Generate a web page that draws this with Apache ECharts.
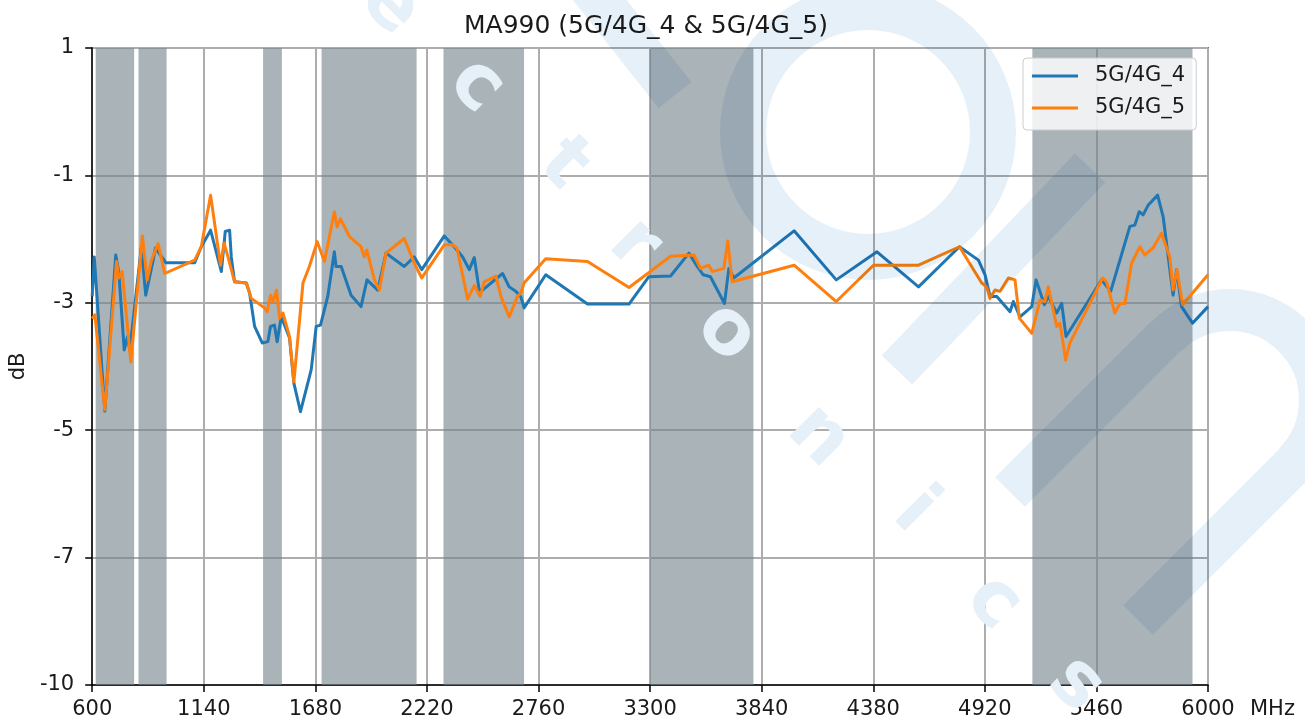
<!DOCTYPE html>
<html><head><meta charset="utf-8">
<script src="https://cdn.jsdelivr.net/npm/echarts@6/dist/echarts.min.js"></script>
<style>html,body{margin:0;padding:0;background:#fff}#c{width:1305px;height:722px}</style>
</head><body><div id="c"></div>
<script>
// ---- data ----
const xTicks = [600, 1140, 1680, 2220, 2760, 3300, 3840, 4380, 4920, 5460, 6000];
const yTickValues = [-9, -7, -5, -3, -1, 1];
const yTickLabels = ['-10', '-7', '-5', '-3', '-1', '1'];

const bandStart = [617, 824, 1427, 1710, 2300, 3300, 5150];
const bandEnd   = [803, 960, 1518, 2170, 2690, 3800, 5925];

const blueMHz = [600,610,661,714,729,755,771,782,838,859,895,906,956,1096,1128,1173,1225,1244,1265,1273,1289,1346,1362,1386,1423,1450,1463,1482,1495,1515,1555,1576,1608,1660,1684,1705,1740,1772,1780,1805,1853,1901,1930,1982,2022,2110,2159,2195,2304,2352,2393,2425,2449,2473,2489,2586,2618,2650,2674,2690,2795,2997,3198,3294,3399,3488,3528,3557,3592,3660,3681,3705,3997,4201,4398,4599,4797,4889,4921,4945,4978,5042,5058,5090,5147,5168,5208,5227,5268,5292,5313,5485,5529,5622,5646,5667,5686,5710,5756,5783,5831,5848,5872,5925,6000];
const blueDb  = [-2.90,-2.28,-4.70,-2.25,-2.53,-3.74,-3.53,-3.74,-2.12,-2.88,-2.33,-2.14,-2.37,-2.37,-2.12,-1.86,-2.51,-1.88,-1.86,-2.28,-2.67,-2.69,-2.85,-3.37,-3.63,-3.61,-3.37,-3.35,-3.61,-3.22,-3.55,-4.26,-4.71,-4.05,-3.37,-3.35,-2.90,-2.20,-2.43,-2.43,-2.88,-3.06,-2.64,-2.80,-2.22,-2.43,-2.28,-2.48,-1.95,-2.12,-2.28,-2.48,-2.29,-2.80,-2.80,-2.54,-2.75,-2.82,-2.90,-3.08,-2.56,-3.02,-3.02,-2.59,-2.58,-2.22,-2.43,-2.56,-2.59,-3.01,-2.46,-2.61,-1.87,-2.64,-2.20,-2.75,-2.12,-2.33,-2.56,-2.90,-2.90,-3.14,-2.98,-3.22,-3.06,-2.64,-3.03,-2.90,-3.16,-3.01,-3.53,-2.64,-2.82,-1.80,-1.78,-1.57,-1.62,-1.47,-1.31,-1.65,-2.88,-2.48,-3.06,-3.32,-3.06];

const orangeMHz = [600,613,661,718,729,745,787,843,866,887,919,951,1096,1128,1173,1221,1238,1257,1289,1346,1370,1434,1447,1463,1475,1492,1507,1523,1555,1576,1620,1651,1689,1724,1772,1785,1801,1845,1901,1917,1929,1966,1990,2022,2110,2159,2195,2304,2344,2365,2417,2449,2478,2497,2554,2578,2618,2658,2674,2690,2795,2997,3198,3399,3512,3544,3584,3601,3657,3676,3697,3997,4201,4381,4599,4797,4905,4929,4945,4969,4994,5034,5066,5087,5147,5187,5211,5227,5268,5284,5311,5332,5490,5509,5549,5574,5598,5630,5670,5694,5734,5775,5815,5831,5850,5877,6000];
const orangeDb  = [-3.25,-3.19,-4.68,-2.35,-2.61,-2.51,-3.93,-1.95,-2.64,-2.33,-2.07,-2.54,-2.33,-2.12,-1.31,-2.41,-2.06,-2.28,-2.67,-2.69,-2.93,-3.08,-3.14,-2.88,-2.98,-2.80,-3.24,-3.16,-3.53,-4.24,-2.69,-2.43,-2.04,-2.35,-1.57,-1.81,-1.68,-1.96,-2.12,-2.28,-2.17,-2.64,-2.80,-2.22,-1.99,-2.38,-2.61,-2.09,-2.09,-2.14,-2.94,-2.73,-2.90,-2.67,-2.58,-2.90,-3.22,-2.90,-2.85,-2.69,-2.31,-2.35,-2.76,-2.27,-2.25,-2.46,-2.41,-2.51,-2.46,-2.03,-2.67,-2.41,-2.98,-2.41,-2.41,-2.12,-2.69,-2.75,-2.93,-2.80,-2.82,-2.61,-2.64,-3.24,-3.48,-2.96,-2.98,-2.75,-3.37,-3.32,-3.90,-3.63,-2.61,-2.67,-3.16,-3.01,-3.01,-2.38,-2.12,-2.25,-2.14,-1.91,-2.28,-2.80,-2.48,-3.03,-2.56];

const seriesNames = ['5G/4G_4', '5G/4G_5'];
const titleText = 'MA990 (5G/4G_4 & 5G/4G_5)';

// ---- chart ----
const FONT = '"DejaVu Sans", "Liberation Sans", sans-serif';
const chart = echarts.init(document.getElementById('c'), null, {renderer: 'canvas'});

const wmColor = '#e6f0f8';
const wmStroke = {stroke: wmColor, fill: null, lineWidth: 42, blend: 'multiply', lineCap: 'butt'};
const letters = [['e',390,6],['c',476,86],['t',563,165],['r',634,245],['o',726,333],['n',818,437],['i',914,512],['c',993,603],['s',1076,685]];
const graphics = [
  {type:'circle', silent:true, z:100, shape:{cx:868, cy:132, r:125}, style:Object.assign({}, wmStroke, {lineWidth:46})},
  {type:'polyline', silent:true, z:100, shape:{points:[[572,-35],[675,95]]}, style:wmStroke},
  {type:'polyline', silent:true, z:100, shape:{points:[[897,370],[1090,168]]}, style:wmStroke},
  {type:'polyline', silent:true, z:100, shape:{points:[[1010,492],[1166,336]]}, style:wmStroke},
  {type:'arc', silent:true, z:100, shape:{cx:1230, cy:400, r:90, startAngle:5*Math.PI/4, endAngle:9*Math.PI/4, clockwise:true}, style:wmStroke},
  {type:'polyline', silent:true, z:100, shape:{points:[[1294,464],[1138,620]]}, style:wmStroke}
].concat(letters.map(l => ({
  type:'text', silent:true, z:100, x:l[1], y:l[2], rotation:-Math.PI/4,
  style:{text:l[0], fill:wmColor, font:'bold 76px "DejaVu Sans"', align:'center', verticalAlign:'middle', blend:'multiply'}
})));

const option = {
  backgroundColor: '#ffffff',
  animation: false,
  title: {
    text: titleText, left: 459, top: 9,
    textStyle: {fontFamily: FONT, fontSize: 25, fontWeight: 'normal', color: '#1a1a1a'}
  },
  legend: {
    data: seriesNames, orient: 'vertical', left: 1023, top: 58,
    padding: [6, 11, 10, 9], itemGap: 8, itemWidth: 46, itemHeight: 3, icon: 'rect',
    backgroundColor: 'rgba(255,255,255,0.8)', borderColor: '#cccccc', borderWidth: 1, borderRadius: 4,
    textStyle: {fontFamily: FONT, fontSize: 21, color: '#1a1a1a', lineHeight: 24, padding: [0, 0, 0, 12]}
  },
  grid: {left: 91, right: 97, top: 48, bottom: 37, show: true, borderColor: '#000', borderWidth: 1.5, backgroundColor: 'transparent'},
  xAxis: {
    type: 'value', min: xTicks[0], max: xTicks[xTicks.length - 1], interval: xTicks[1] - xTicks[0],
    name: 'MHz', nameLocation: 'end', nameGap: 42,
    nameTextStyle: {fontFamily: FONT, fontSize: 21, color: '#1a1a1a', verticalAlign: 'top', lineHeight: 22, padding: [14, 0, 0, 0]},
    axisLine: {onZero: false, lineStyle: {color: '#000', width: 1.5}},
    axisTick: {show: true, inside: false, length: 7, lineStyle: {color: '#000', width: 1.5}},
    axisLabel: {fontFamily: FONT, fontSize: 21, color: '#1a1a1a', margin: 14, lineHeight: 22, formatter: v => String(v)},
    splitLine: {show: true, lineStyle: {color: '#adadad', width: 2}}
  },
  yAxis: {
    type: 'value', min: yTickValues[0], max: yTickValues[yTickValues.length - 1], interval: 2,
    name: 'dB', nameLocation: 'middle', nameGap: 62,
    nameTextStyle: {fontFamily: FONT, fontSize: 21, color: '#1a1a1a'},
    axisLine: {show: true, lineStyle: {color: '#000', width: 1.5}},
    axisTick: {show: true, inside: false, length: 7, lineStyle: {color: '#000', width: 1.5}},
    axisLabel: {fontFamily: FONT, fontSize: 21, color: '#1a1a1a', margin: 18,
      formatter: v => { const i = yTickValues.indexOf(v); return i >= 0 ? yTickLabels[i] : String(v); }},
    splitLine: {show: true, lineStyle: {color: '#adadad', width: 2}}
  },
  series: [
    {
      name: 'bands', type: 'line', data: [], silent: true, z: 1,
      markArea: {silent: true, itemStyle: {color: 'rgba(118,132,140,0.62)'},
        data: bandStart.map((s, i) => [{xAxis: s}, {xAxis: bandEnd[i]}])}
    },
    {
      name: seriesNames[0], type: 'line', symbol: 'none', z: 3,
      data: blueMHz.map((f, i) => [f, blueDb[i]]),
      lineStyle: {color: '#1f77b4', width: 3, join: 'round'}, itemStyle: {color: '#1f77b4'}
    },
    {
      name: seriesNames[1], type: 'line', symbol: 'none', z: 4,
      data: orangeMHz.map((f, i) => [f, orangeDb[i]]),
      lineStyle: {color: '#ff7f0e', width: 3, join: 'round'}, itemStyle: {color: '#ff7f0e'}
    }
  ],
  graphic: graphics
};
chart.setOption(option);
</script>
</body></html>
